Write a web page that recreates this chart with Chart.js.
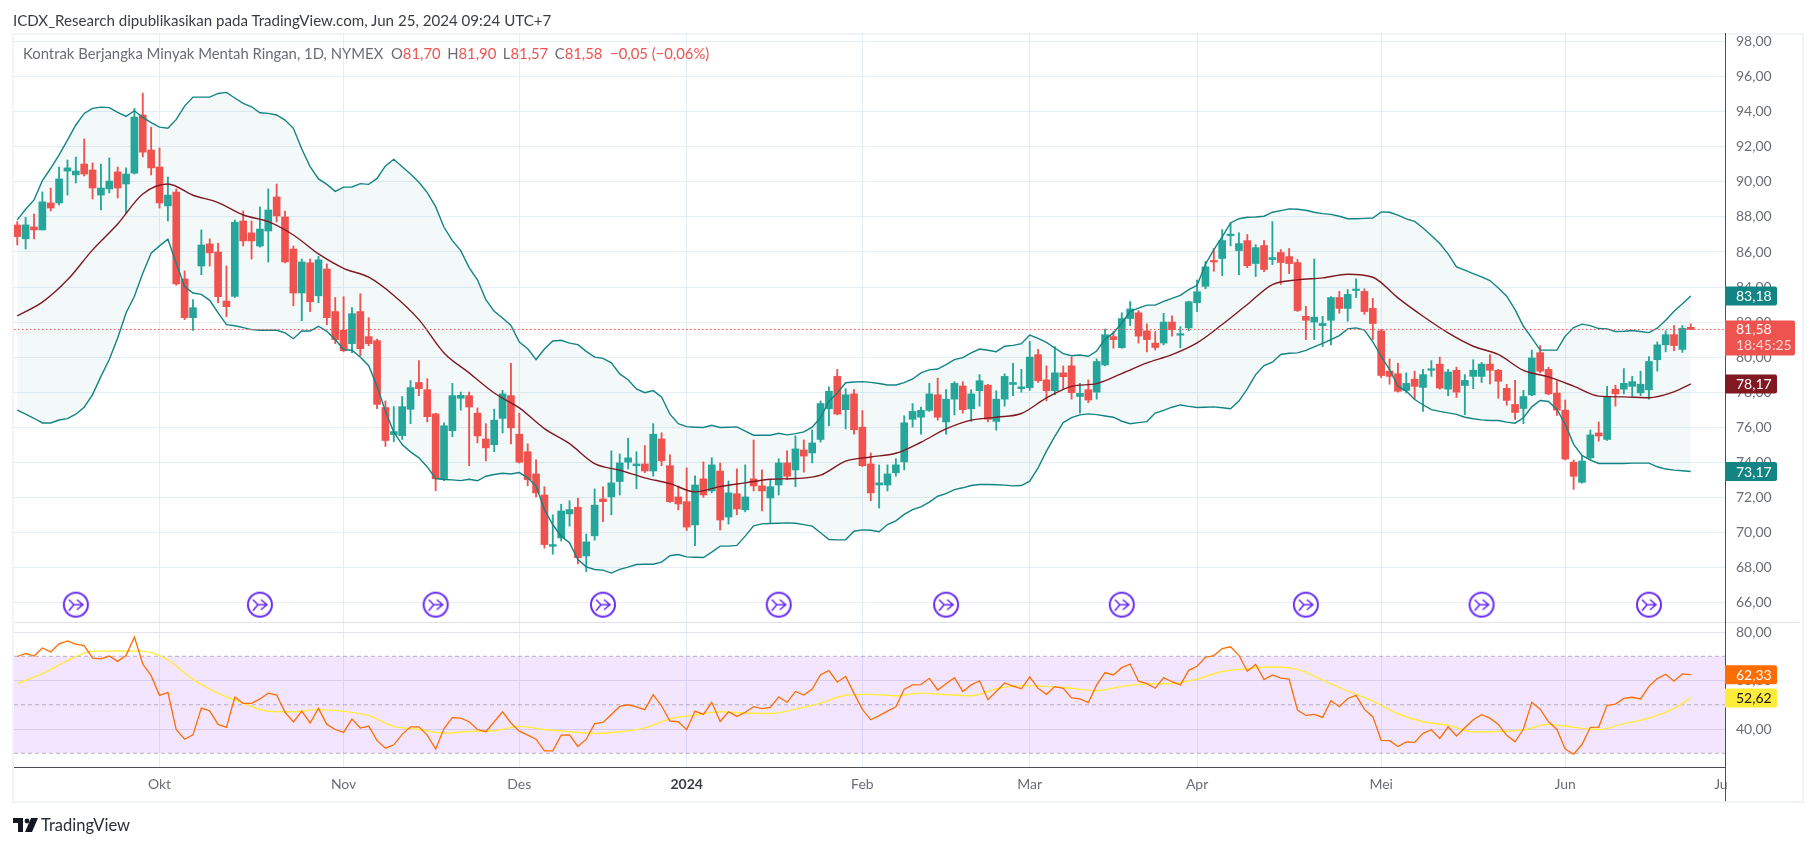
<!DOCTYPE html>
<html lang="id">
<head>
    <meta charset="UTF-8">
    <title>Kontrak Berjangka Minyak Mentah Ringan</title>
    <script src="https://cdn.jsdelivr.net/npm/chart.js"></script>
    <style>
        html, body { margin: 0; padding: 0; background: #fff; overflow: hidden; }
        body { width: 1814px; height: 846px; position: relative; font-family: Lato, sans-serif; }
        #frame { position: absolute; left: 12px; top: 33px; width: 1788px; height: 766px; border: 2px solid #f0f3fa; }
        #chart { position: absolute; left: 0; top: 0; }
        #pub { position: absolute; left: 13px; top: 10px; font-size: 15.1px; line-height: 20px; color: #3a3d46; white-space: nowrap; }
        #legend { position: absolute; left: 23px; top: 43px; font-size: 14.85px; line-height: 20px; color: #6a6d78; white-space: nowrap; }
        #legend b { font-weight: normal; color: #ef5350; margin-right: 6.5px; }
        #brand { position: absolute; left: 13px; top: 813px; height: 24px; font-size: 16.5px; line-height: 24px; color: #2a2e39; white-space: nowrap; }
        #brand svg { position: absolute; left: 0; top: 5px; }
        #brand span { position: absolute; left: 28px; top: 0; }
    </style>
</head>
<body>

<div id="frame"></div>
<canvas id="chart" width="1814" height="846"></canvas>

<div id="pub">ICDX_Research dipublikasikan pada TradingView.com, Jun 25, 2024 09:24 UTC+7</div>
<div id="legend">Kontrak Berjangka Minyak Mentah Ringan, 1D, NYMEX&nbsp; O<b>81,70</b>H<b>81,90</b>L<b>81,57</b>C<b>81,58 &nbsp;−0,05 (−0,06%)</b></div>
<div id="brand">
    <svg width="25" height="14" viewBox="0 0 25 14"><path d="M0 0h10v14H5V5H0z M18 0h7l-6 14h-7z" fill="#131722"/><circle cx="14" cy="3" r="2.4" fill="#131722"/></svg>
    <span>TradingView</span>
</div>

<script>
    // candles, one per trading day
    const open = [
        87.54,86.75,87.43,87.26,88.8,88.8,90.62,90.4,91.02,90.68,
        89.25,89.6,90.57,89.88,90.5,93.82,91.82,90.85,88.63,89.42,
        84.46,82.25,85.2,86.46,86.0,83.2,83.47,87.77,87.09,86.34,
        87.2,89.14,88.0,86.17,83.66,85.38,83.5,85.03,82.6,81.53,
        80.77,82.6,81.17,80.94,77.12,75.58,75.52,77.02,78.55,78.14,
        76.76,73.05,75.8,77.65,77.8,76.8,75.33,75.0,76.5,77.8,
        75.6,74.6,73.33,72.13,69.2,69.68,71.05,71.43,68.65,69.8,
        71.9,72.02,72.9,74.0,73.8,73.9,73.5,75.33,73.8,72.02,
        71.75,70.42,73.05,72.36,73.5,70.87,72.2,71.28,73.05,72.65,
        71.96,72.7,73.96,73.56,74.7,74.53,75.3,77.05,78.9,77.0,
        77.9,76.0,73.9,72.7,72.7,73.4,74.02,76.45,76.57,76.96,
        77.85,76.3,77.6,78.35,77.05,78.08,78.4,76.33,77.6,78.44,
        78.2,78.26,80.14,78.7,78.08,79.1,79.5,77.75,78.14,78.0,
        79.55,81.17,80.54,82.2,82.53,81.5,80.8,80.8,82.0,81.25,
        81.67,83.1,84.04,85.48,85.63,86.93,86.08,86.65,85.34,86.37,
        85.57,85.97,85.74,85.4,82.33,82.0,81.8,82.1,83.4,82.78,
        83.8,83.75,82.78,81.5,79.2,79.05,78.1,78.74,78.27,79.25,
        79.6,78.17,79.25,78.38,78.9,78.9,79.6,79.25,78.22,77.3,
        77.07,77.84,80.25,79.3,77.95,76.97,74.0,72.85,74.25,75.67,
        75.3,78.17,78.17,78.33,77.96,78.13,79.85,80.7,81.28,80.44,81.7
    ];
    const high = [
        87.73,87.98,88.17,89.43,89.65,90.85,91.25,91.42,92.45,91.08,
        91.02,91.37,90.85,90.8,94.2,95.07,93.13,91.94,90.28,89.6,
        84.92,83.28,87.26,86.75,86.5,85.2,87.83,88.34,87.77,88.57,
        89.6,89.88,88.34,86.34,85.6,85.6,85.75,85.32,83.4,83.45,
        82.82,83.62,82.25,81.03,77.5,77.17,77.75,78.66,79.8,78.77,
        76.8,76.25,78.5,78.0,78.0,77.1,76.2,77.03,78.1,79.65,
        76.8,75.05,74.13,72.6,71.0,71.6,71.8,71.95,69.9,72.48,
        72.6,74.65,74.47,75.37,74.6,74.95,76.2,75.68,74.42,72.65,
        73.68,73.22,74.02,74.25,73.96,72.93,73.62,73.85,75.27,73.56,
        73.0,74.2,74.65,75.5,75.27,75.84,77.5,78.3,79.3,78.2,
        78.14,76.95,74.53,73.84,73.85,74.2,76.65,77.35,77.15,78.5,
        78.8,78.14,78.6,78.6,78.14,79.0,78.45,78.08,79.05,79.65,
        79.3,80.9,80.44,79.5,80.6,79.5,80.0,78.5,78.7,79.9,
        81.6,81.45,82.53,83.17,82.65,81.9,81.45,82.5,82.36,81.74,
        83.2,84.4,85.47,86.2,87.28,87.66,87.1,87.0,86.42,86.65,
        87.73,86.14,86.2,85.57,82.9,85.6,82.33,83.46,83.76,83.86,
        84.47,83.9,83.35,81.58,79.9,79.65,79.1,79.2,79.3,79.8,
        80.0,79.3,79.43,79.0,79.85,79.7,80.14,79.3,78.45,78.67,
        78.1,80.4,80.65,79.43,78.65,77.55,74.13,74.4,75.84,76.3,
        78.33,78.4,79.35,78.9,79.2,80.03,80.87,81.5,81.8,81.8,81.9
    ];
    const low = [
        86.4,86.17,86.75,87.26,88.34,88.68,89.25,89.94,90.34,89.03,
        88.4,89.37,89.08,88.2,90.45,91.42,90.4,88.51,87.77,84.1,
        82.14,81.53,84.7,85.2,83.1,82.3,83.4,86.34,85.6,86.28,
        85.43,87.71,85.38,82.93,82.08,82.6,83.1,81.85,80.77,80.3,
        80.25,80.08,80.65,77.06,74.9,75.18,75.3,76.2,77.8,76.3,
        72.37,72.94,75.46,76.97,73.8,75.1,74.07,74.6,75.67,75.05,
        73.95,72.65,72.02,69.1,68.75,69.5,70.35,68.2,67.75,69.55,
        70.6,71.0,72.13,73.62,72.48,73.4,73.2,73.8,71.7,71.28,
        70.1,69.23,72.0,72.25,70.13,70.47,71.0,71.17,72.36,71.22,
        70.5,72.13,73.0,72.6,73.43,73.96,75.15,76.08,76.7,75.9,
        75.6,73.75,71.8,71.38,72.36,73.2,73.56,76.0,75.6,76.9,
        76.4,75.6,76.7,76.8,76.33,77.2,76.3,75.83,77.2,77.8,
        78.0,78.1,78.55,77.5,77.85,78.14,77.6,76.8,77.4,77.6,
        79.5,80.5,80.5,81.8,80.8,80.3,80.4,80.7,81.2,80.53,
        81.5,82.6,83.9,84.9,84.65,86.35,84.7,85.1,84.6,84.88,
        85.28,84.15,84.77,82.6,81.0,81.0,80.6,80.7,82.5,82.05,
        83.4,82.44,81.0,78.83,78.45,78.0,77.95,77.6,76.9,78.9,
        78.17,77.8,77.7,76.72,78.2,78.55,78.47,77.65,77.25,76.45,
        76.2,77.8,79.1,77.85,76.67,74.13,72.45,72.8,74.15,75.2,
        75.24,77.2,77.9,77.75,77.8,77.6,79.2,80.3,80.37,80.27,81.57
    ];
    const close = [
        86.88,87.55,87.26,88.86,88.51,90.17,90.8,90.62,90.45,89.65,
        89.65,90.05,89.65,90.45,93.7,91.7,90.8,88.8,89.25,84.18,
        82.25,82.82,86.4,85.95,83.45,82.88,87.7,86.63,86.63,87.31,
        88.4,88.06,85.43,83.66,85.43,83.16,85.55,82.25,81.0,80.37,
        82.48,80.48,80.77,77.3,75.24,75.75,77.17,78.26,78.2,76.6,
        73.05,76.08,77.8,77.82,77.15,75.5,74.82,76.4,77.9,75.96,
        74.0,73.0,72.25,69.3,69.3,71.22,71.3,68.55,69.45,71.55,
        71.75,72.82,73.96,74.25,73.9,73.5,75.6,74.08,71.75,71.62,
        70.3,72.7,72.13,73.85,70.7,72.25,71.33,72.02,72.65,72.36,
        72.6,73.96,73.2,74.76,74.35,75.1,77.35,78.05,76.75,77.85,
        75.85,73.8,72.25,72.82,73.33,73.85,76.25,76.9,76.96,77.9,
        76.57,77.6,78.5,77.0,77.9,78.65,76.45,77.6,78.9,78.55,
        78.3,80.0,78.65,78.08,79.1,78.88,77.97,77.93,77.55,79.75,
        81.28,81.0,82.2,82.75,81.2,81.0,80.55,82.0,81.57,81.33,
        83.16,83.73,85.15,85.43,86.65,86.98,86.48,85.22,86.25,85.0,
        85.68,85.4,85.34,82.66,82.1,82.28,81.92,83.4,82.78,83.58,
        83.86,82.6,81.92,78.95,78.9,78.05,78.5,78.33,79.0,79.3,
        78.23,79.15,78.0,78.67,79.25,79.6,79.25,78.62,77.53,76.84,
        77.75,79.95,79.2,77.9,76.97,74.18,73.2,74.07,75.56,75.5,
        77.75,77.9,78.5,78.6,78.45,79.75,80.7,81.28,80.66,81.64,81.58
    ];

    // bollinger bands, one per bar
    const bbUpper = [
        87.83,88.44,88.97,90.07,90.78,91.54,92.39,93.25,93.91,94.2,
        94.27,94.24,93.97,93.74,94.06,93.68,93.38,93.13,93.06,93.57,
        94.33,94.84,94.84,94.84,95.05,95.11,94.79,94.48,94.29,93.95,
        93.91,93.82,93.53,93.06,91.88,90.87,90.17,89.86,89.46,89.7,
        89.71,89.9,89.86,90.2,90.91,91.29,90.87,90.45,89.98,89.39,
        88.59,87.41,86.65,86.08,85.11,84.41,83.28,82.61,82.23,81.81,
        80.86,80.48,79.86,80.46,80.92,80.96,80.8,80.71,80.33,80.0,
        79.93,79.67,79.04,78.71,78.18,77.97,78.09,77.73,76.74,76.2,
        76.03,76.0,75.98,76.11,75.98,76.0,76.02,75.77,75.54,75.54,
        75.54,75.65,75.56,75.63,75.73,76.0,76.55,77.48,77.95,78.54,
        78.58,78.6,78.56,78.49,78.41,78.41,78.54,78.75,79.1,79.27,
        79.32,79.57,79.86,79.97,80.24,80.46,80.39,80.31,80.62,80.67,
        80.77,81.26,81.07,80.84,80.52,80.2,80.08,80.12,80.05,80.35,
        81.03,81.38,81.95,82.61,82.8,82.97,82.97,83.18,83.35,83.52,
        83.85,84.1,85.3,86.14,86.86,87.66,87.9,87.98,88.0,88.04,
        88.27,88.36,88.46,88.44,88.38,88.27,88.19,88.15,88.04,87.9,
        87.9,87.92,87.94,88.29,88.27,88.1,87.89,87.75,87.37,86.94,
        86.48,85.89,85.15,84.96,84.77,84.58,84.37,83.95,83.48,82.71,
        81.76,81.1,80.4,80.4,80.4,81.2,81.69,81.88,81.8,81.63,
        81.61,81.46,81.48,81.52,81.46,81.4,81.65,82.1,82.62,83.04,83.49
    ];
    const bbLower = [
        76.97,76.74,76.51,76.24,76.24,76.41,76.49,76.74,77.14,77.86,
        78.9,79.86,81.09,82.52,83.47,84.79,85.93,86.35,86.73,85.36,
        84.03,83.66,83.58,83.24,82.52,81.85,81.79,81.68,81.57,81.53,
        81.53,81.53,81.38,81.05,81.49,81.49,81.76,81.47,81.0,80.43,
        80.39,79.99,79.51,78.33,76.91,75.71,75.01,74.59,74.25,73.73,
        73.07,73.01,72.99,72.95,73.03,72.94,73.2,73.3,73.37,73.33,
        73.41,73.11,72.63,71.3,70.43,69.78,69.4,68.45,68.03,67.88,
        67.84,67.67,67.88,68.01,68.16,68.18,68.18,68.3,68.66,68.73,
        68.6,68.58,68.56,68.87,69.21,69.21,69.25,69.78,70.37,70.48,
        70.5,70.52,70.54,70.52,70.44,70.35,69.97,69.59,69.57,69.57,
        70.06,70.14,70.12,70.03,70.44,70.65,71.02,71.3,71.45,71.72,
        72.06,72.21,72.44,72.54,72.67,72.73,72.73,72.71,72.69,72.65,
        72.67,72.92,73.68,74.63,75.48,76.26,76.55,76.7,76.76,76.72,
        76.64,76.57,76.34,76.2,76.26,76.32,76.81,76.96,77.14,77.27,
        77.19,77.12,77.14,77.16,77.11,77.05,77.49,78.19,79.0,79.52,
        79.71,80.15,80.22,80.24,80.38,80.59,80.78,81.0,81.23,81.61,
        81.67,81.54,80.87,80.05,79.29,78.34,78.06,77.58,77.28,77.0,
        76.9,76.82,76.73,76.57,76.48,76.42,76.38,76.38,76.29,76.23,
        76.54,77.16,77.52,77.47,77.01,76.16,75.02,74.39,74.12,73.93,
        73.93,73.93,73.93,73.95,73.95,73.95,73.74,73.61,73.55,73.51,73.47
    ];

    // basis and rsi average, read every third bar
    const sampleBars = [
        0,3,6,9,12,15,18,21,24,27,30,33,36,39,42,45,48,51,54,57,60,63,66,69,
        72,75,78,81,84,87,90,93,96,99,102,105,108,111,114,117,120,123,126,129,132,135,138,141,
        144,147,150,153,156,159,162,165,168,171,174,177,180,183,186,189,192,195,198,200
    ];
    const bbBasis = [
        82.36,83.14,84.41,86.12,87.6,89.31,89.88,89.24,88.82,88.11,87.73,86.97,85.89,85.07,84.56,83.52,82.14,80.24,79.1,77.95,77.1,75.92,75.06,73.92,
        73.54,73.11,72.78,72.31,72.61,72.82,73.03,73.07,73.26,74.06,74.3,74.51,75.14,75.9,76.4,76.57,76.78,77.67,78.33,78.49,79.06,79.67,80.14,80.81,
        81.86,83.0,84.14,84.41,84.52,84.73,84.56,83.38,82.33,81.38,80.62,80.15,79.24,78.87,78.34,77.77,77.73,77.68,78.02,78.47
    ];
    const rsiMa = [
        58.7,62.8,68.2,72.1,72.2,72.1,68.5,60.5,54.8,50.6,47.3,47.1,48.0,47.3,45.5,41.1,39.8,38.3,39.0,39.3,41.1,39.8,38.9,38.2,
        38.9,40.5,44.2,45.8,47.1,46.6,46.4,48.2,50.7,53.9,54.3,53.7,54.8,54.2,53.7,56.6,57.9,57.6,56.8,55.8,57.6,58.6,58.8,60.6,
        63.7,64.9,65.6,64.6,60.2,55.7,51.5,46.3,43.0,41.5,38.9,39.0,39.7,41.9,40.7,39.8,42.2,44.5,48.5,52.8
    ];
    const rsi = [
        69.9,71.2,70.1,73.4,71.8,75.1,76.3,75.0,74.4,69.2,
        68.9,70.1,67.9,70.3,77.9,66.8,62.0,53.9,55.1,39.7,
        35.8,37.6,48.6,47.5,41.9,40.7,53.2,50.6,50.6,52.4,
        54.8,54.0,46.9,42.9,47.4,42.5,48.5,41.9,39.8,38.6,
        44.1,40.4,41.2,35.2,32.1,33.5,37.8,40.9,40.9,37.5,
        31.7,40.2,44.7,44.5,43.0,39.8,38.9,43.0,47.1,42.5,
        39.1,37.5,35.8,31.0,31.0,37.5,37.6,32.8,35.8,42.2,
        42.7,46.0,49.3,50.0,49.1,48.0,54.2,49.5,43.3,43.0,
        39.7,47.4,46.0,51.0,43.1,47.1,45.2,46.9,49.2,48.4,
        48.9,53.3,51.0,55.5,54.0,56.5,62.4,64.1,59.3,61.7,
        54.7,48.1,43.8,45.5,47.4,49.2,56.4,58.2,58.3,60.9,
        56.1,58.7,61.2,55.5,58.2,59.9,52.1,55.5,59.0,57.7,
        56.6,61.5,56.8,54.3,57.5,56.8,52.8,52.4,50.9,58.2,
        63.3,62.3,65.3,66.8,59.7,58.7,56.8,61.2,59.5,58.2,
        64.2,65.9,69.6,70.3,73.2,73.9,70.4,63.8,66.6,60.4,
        62.3,61.0,60.6,47.8,45.6,46.0,44.8,51.7,49.2,52.6,
        53.9,48.1,45.1,35.3,35.2,32.8,34.7,34.5,38.2,39.7,
        36.1,40.9,37.1,40.5,43.8,45.9,44.5,41.9,37.4,34.7,
        40.0,51.0,48.2,43.0,39.8,31.7,29.6,33.6,40.7,40.8,
        49.8,50.3,52.6,53.1,52.4,57.6,60.8,62.6,59.7,62.7,62.4
    ];

    // axes
    const priceTicks = [98,96,94,92,90,88,86,84,82,80,78,76,74,72,70,68,66];
    const rsiTicks = [80,60,40];
    const rsiBands = [70,50,30];
    const monthBars = [17,39,60,80,101,121,141,163,185,203.6];
    const monthLabels = ['Okt','Nov','Des','2024','Feb','Mar','Apr','Mei','Jun','Ju'];
    const eventBars = [7,29,50,70,91,111,132,154,175,195];
    const eventLevel = 65.87;
    const lastPrice = 81.58;
    const tagUpper = '83,18', tagBasis = '78,17', tagLower = '73,17', tagRsi = '62,33', tagRsiMa = '52,62';
    const tagPrice = '81,58', tagTimer = '18:45:25';

    const UP = '#26a69a', DOWN = '#ef5350', TEAL = '#138484', MAROON = '#801922';
    const ORANGE = '#ff6d00', YELLOW = '#ffeb3b';
    const GRID = '#e6eef4', TEXT = '#6a6d78', AXIS = '#4a4d57';
    const FONT = 'Lato, sans-serif';

    const xMin = -0.39, xMax = 204.09;
    const colors = close.map((c, i) => c >= open[i] ? UP : DOWN);
    const comma = v => v.toFixed(2).replace('.', ',');
    const perBar = arr => arr.map((v, i) => ({ x: i, y: v }));
    const sampled = arr => arr.map((v, i) => ({ x: sampleBars[i], y: v }));
    const across = v => [{ x: xMin, y: v }, { x: xMax, y: v }];

    // icon for the calendar events along the bottom of the price pane
    function eventIcon() {
        const c = document.createElement('canvas');
        c.width = c.height = 28;
        const g = c.getContext('2d');
        g.strokeStyle = '#6a2df5';
        g.lineWidth = 2;
        g.fillStyle = '#fff';
        g.beginPath();
        g.arc(14, 14, 12, 0, Math.PI * 2);
        g.fill();
        g.stroke();
        g.lineWidth = 1.6;
        g.beginPath();
        g.moveTo(7, 9); g.lineTo(12, 14); g.lineTo(21, 14);
        g.moveTo(7, 20); g.lineTo(12, 14);
        g.moveTo(15, 9); g.lineTo(21, 14); g.lineTo(15, 19);
        g.stroke();
        return c;
    }

    const lineSet = (data, color, axis, width, order) => ({
        type: 'line', data: data, yAxisID: axis, borderColor: color, borderWidth: width,
        pointRadius: 0, tension: 0, fill: false, order: order
    });

    const upperSet = lineSet(perBar(bbUpper), TEAL, 'y', 1.4, 3);
    upperSet.fill = { target: '+2' };
    upperSet.backgroundColor = 'rgba(0,137,123,0.05)';

    const basisSet = lineSet(sampled(bbBasis), MAROON, 'y', 1.4, 3);
    basisSet.cubicInterpolationMode = 'monotone';

    const maSet = lineSet(sampled(rsiMa), YELLOW, 'rsi', 1.4, 5);
    maSet.cubicInterpolationMode = 'monotone';

    const bandTop = lineSet(across(rsiBands[0]), 'rgba(120,123,134,0.55)', 'rsi', 1, 6);
    bandTop.borderDash = [4, 3];
    bandTop.fill = { target: '+2' };
    bandTop.backgroundColor = 'rgba(144,0,255,0.1)';
    const bandMid = lineSet(across(rsiBands[1]), 'rgba(120,123,134,0.55)', 'rsi', 1, 6);
    bandMid.borderDash = [4, 3];
    const bandLow = lineSet(across(rsiBands[2]), 'rgba(120,123,134,0.55)', 'rsi', 1, 6);
    bandLow.borderDash = [4, 3];

    const priceLine = lineSet(across(lastPrice), DOWN, 'y', 1, 2);
    priceLine.borderDash = [1.5, 2.5];

    // separators and the coloured price tags on the right axis
    const panePlugin = {
        id: 'panes',
        afterDraw(chart) {
            const ctx = chart.ctx, y = chart.scales.y, r = chart.scales.rsi, a = chart.chartArea;
            ctx.save();
            ctx.strokeStyle = '#e0e3eb';
            ctx.beginPath();
            ctx.moveTo(a.left, y.bottom + 0.5); ctx.lineTo(1800, y.bottom + 0.5);
            ctx.stroke();
            ctx.strokeStyle = AXIS;
            ctx.beginPath();
            ctx.moveTo(a.right + 0.5, a.top); ctx.lineTo(a.right + 0.5, 801);
            ctx.stroke();

            const tag = (scale, value, text, bg, fg) => {
                const py = scale.getPixelForValue(value);
                ctx.fillStyle = bg;
                ctx.beginPath();
                ctx.roundRect(a.right, py - 9.5, 52, 19, [0, 2, 2, 0]);
                ctx.fill();
                ctx.fillStyle = fg;
                ctx.font = '14px ' + FONT;
                ctx.textBaseline = 'middle';
                ctx.textAlign = 'left';
                ctx.fillText(text, a.right + 11, py + 0.5);
            };
            tag(y, bbUpper[bbUpper.length - 1], tagUpper, TEAL, '#fff');
            tag(y, bbBasis[bbBasis.length - 1], tagBasis, MAROON, '#fff');
            tag(y, bbLower[bbLower.length - 1], tagLower, TEAL, '#fff');
            tag(r, rsi[rsi.length - 1], tagRsi, ORANGE, '#fff');
            tag(r, rsiMa[rsiMa.length - 1], tagRsiMa, YELLOW, '#131722');

            const py = y.getPixelForValue(lastPrice);
            ctx.fillStyle = DOWN;
            ctx.beginPath();
            ctx.roundRect(a.right, py - 9, 70, 35, [0, 2, 2, 0]);
            ctx.fill();
            ctx.fillStyle = '#fff';
            ctx.font = '14px ' + FONT;
            ctx.textBaseline = 'middle';
            ctx.fillText(tagPrice, a.right + 11, py);
            ctx.fillStyle = '#fcd5d3';
            ctx.fillText(tagTimer, a.right + 11, py + 16);
            ctx.restore();
        }
    };

    new Chart(document.getElementById('chart'), {
        type: 'bar',
        plugins: [panePlugin],
        data: {
            datasets: [
                { data: low.map((v, i) => ({ x: i, y: [v, high[i]] })), yAxisID: 'y', backgroundColor: colors,
                  barThickness: 1.2, grouped: false, order: 5 },
                { data: open.map((v, i) => ({ x: i, y: [v, close[i]] })), yAxisID: 'y', backgroundColor: colors,
                  barThickness: 7, minBarLength: 1.5, grouped: false, order: 4 },
                upperSet,
                basisSet,
                lineSet(perBar(bbLower), TEAL, 'y', 1.4, 3),
                priceLine,
                { type: 'line', data: eventBars.map(b => ({ x: b, y: eventLevel })), yAxisID: 'y', showLine: false,
                  pointStyle: eventIcon(), pointRadius: 13, order: 1 },
                bandTop, bandMid, bandLow,
                maSet,
                lineSet(perBar(rsi), ORANGE, 'rsi', 1.3, 4)
            ]
        },
        options: {
            responsive: false,
            animation: false,
            events: [],
            layout: { padding: { left: 14, top: 33, right: 13, bottom: 45 } },
            plugins: {
                legend: { display: false },
                tooltip: { enabled: false },
                filler: { drawTime: 'beforeDatasetsDraw' }
            },
            scales: {
                x: {
                    type: 'linear', min: xMin, max: xMax, offset: false,
                    afterFit(s) { s.height = 34; s.paddingLeft = 0; s.paddingRight = 0; },
                    afterBuildTicks(s) { s.ticks = monthBars.map(v => ({ value: v })); },
                    grid: {
                        offset: false, drawTicks: false,
                        color: c => c.index === monthBars.length - 1 ? 'transparent' : GRID
                    },
                    border: { color: AXIS },
                    ticks: {
                        autoSkip: false, maxRotation: 0, padding: 9,
                        color: c => monthLabels[c.index] === '2024' ? '#3a3d46' : TEXT,
                        font: c => ({ family: FONT, size: 14, weight: monthLabels[c.index] === '2024' ? 'bold' : 'normal' }),
                        callback: (v, i) => monthLabels[i]
                    }
                },
                y: {
                    type: 'linear', position: 'right', stack: 'panes', stackWeight: 589,
                    min: 64.88, max: 98.5,
                    afterFit(s) { s.width = 76; },
                    afterBuildTicks(s) { s.ticks = priceTicks.map(v => ({ value: v })); },
                    grid: { color: GRID, drawTicks: false },
                    border: { display: false },
                    ticks: { autoSkip: false, padding: 11, color: TEXT, font: { family: FONT, size: 14 }, callback: comma }
                },
                rsi: {
                    type: 'linear', position: 'right', stack: 'panes', stackWeight: 145,
                    min: 24.34, max: 84.13,
                    afterFit(s) { s.width = 76; },
                    afterBuildTicks(s) { s.ticks = rsiTicks.map(v => ({ value: v })); },
                    grid: { color: '#e0e3f2', drawTicks: false },
                    border: { display: false },
                    ticks: { autoSkip: false, padding: 11, color: TEXT, font: { family: FONT, size: 14 }, callback: comma }
                }
            }
        }
    });
</script>

</body>
</html>
